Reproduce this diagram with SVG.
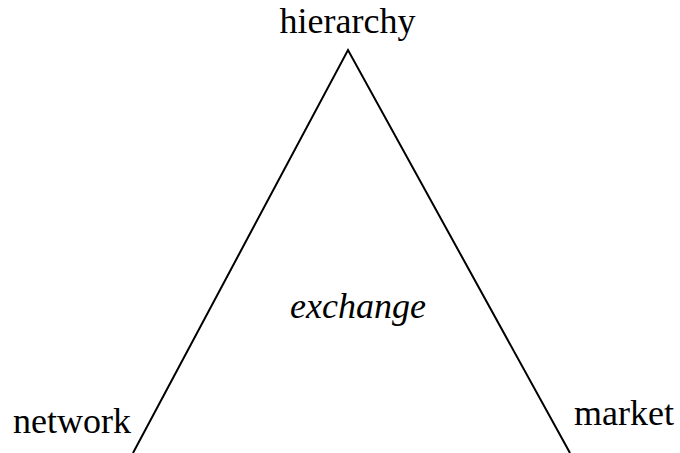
<svg xmlns="http://www.w3.org/2000/svg" width="680" height="453" viewBox="0 0 680 453">
<style>
text{font-family:"Liberation Serif","Times New Roman",serif;font-size:36px;fill:#000}
.edge{fill:none;stroke:#000;stroke-width:2}
</style>
<rect width="680" height="453" fill="#fff"/>
<g id="connectors">
<path class="edge" d="M133,453 L348,50 L570,453"/>
</g>
<g id="hierarchy"><text x="347.5" y="33" text-anchor="middle">hierarchy</text></g>
<g id="network"><text x="13" y="433">network</text></g>
<g id="market"><text x="574" y="425">market</text></g>
<g id="exchange"><text x="358" y="318" text-anchor="middle" font-style="italic">exchange</text></g>
</svg>
